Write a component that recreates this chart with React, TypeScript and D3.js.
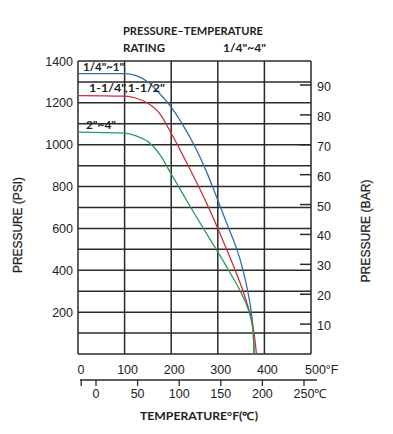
import React from "react";
import * as d3 from "d3";

// ---- data ----
const fTicks = [0, 100, 200, 300, 400, 500];
const cTicks = [0, 50, 100, 150, 200, 250];
const psiTicks = [200, 400, 600, 800, 1000, 1200, 1400];
const psiGrid = d3.range(0, 1401, 100);
const barTicks = [10, 20, 30, 40, 50, 60, 70, 80, 90];

const seriesNames = ['1/4"~1"', '1-1/4",1-1/2"', '2"~4"'];
const seriesColors = ["#2f6fae", "#cf2b3c", "#2a9a58"];

const smallF = [0, 100, 125, 150, 175, 200, 225, 250, 275, 300, 320, 340, 350, 360, 368, 373, 376, 378];
const smallPsi = [1340, 1340, 1330, 1300, 1245, 1180, 1095, 995, 875, 735, 620, 505, 435, 345, 255, 180, 105, 0];

const midF = [0, 100, 125, 150, 175, 200, 225, 250, 275, 300, 320, 340, 355, 365, 373, 378, 381, 383];
const midPsi = [1235, 1232, 1222, 1198, 1150, 1055, 950, 840, 725, 600, 495, 385, 295, 225, 160, 95, 40, 0];

const largeF = [0, 100, 125, 150, 175, 200, 225, 250, 275, 300, 325, 350, 365, 372, 376, 378];
const largePsi = [1060, 1055, 1042, 1015, 955, 860, 765, 670, 578, 488, 393, 292, 215, 160, 100, 0];

const seriesF = [smallF, midF, largeF];
const seriesPsi = [smallPsi, midPsi, largePsi];

// ---- layout ----
const W = 393, H = 434;
const L = 78, R = 311, T = 61, B = 354;

export default function App() {
  const x = d3.scaleLinear().domain([0, 500]).range([L, R]);
  const y = d3.scaleLinear().domain([0, 1400]).range([B, T]);
  const yBar = d3.scaleLinear().domain([0, 90]).range([B, 85]);
  const xC = d3.scaleLinear().domain([0, 250]).range([96, 304]);
  const cMin = (0 - 32) / 1.8;

  const line = d3
    .line<[number, number]>()
    .x((d) => x(d[0]))
    .y((d) => y(d[1]))
    .curve(d3.curveMonotoneX);

  const gridColor = "#2a2a2a";
  const tickFont = "'Liberation Sans', Arial, sans-serif";
  const boldFont = "Lato, 'Open Sans', sans-serif";
  const cAxisY = 380;

  return (
    <svg
      width={W}
      height={H}
      style={{ position: "absolute", left: 0, top: 0, background: "#fff" }}
    >
      <rect x={0} y={0} width={W} height={H} fill="#fff" />
      {/* title */}
      <g fontFamily={boldFont} fontWeight={700} fill="#222" fontSize={11.5}>
        <text x={123} y={35} textLength={140} lengthAdjust="spacingAndGlyphs">
          PRESSURE–TEMPERATURE
        </text>
        <text x={123} y={52} textLength={42} lengthAdjust="spacingAndGlyphs">
          RATING
        </text>
        <text x={223} y={52} textLength={43} lengthAdjust="spacingAndGlyphs">
          1/4"~4"
        </text>
      </g>

      {/* grid */}
      <g stroke={gridColor} strokeWidth={1.5}>
        {psiGrid.map((v) => (
          <line key={"h" + v} x1={L} x2={R} y1={y(v)} y2={y(v)} />
        ))}
        {fTicks.map((v) => (
          <line key={"v" + v} x1={x(v)} x2={x(v)} y1={T} y2={B} />
        ))}
        {barTicks.map((v) => (
          <line key={"b" + v} x1={R - 11} x2={R} y1={yBar(v)} y2={yBar(v)} />
        ))}
      </g>

      {/* curves */}
      {seriesF.map((fs, i) => (
        <path
          key={"s" + i}
          d={line(fs.map((f, j) => [f, seriesPsi[i][j]] as [number, number])) || ""}
          fill="none"
          stroke={seriesColors[i]}
          strokeWidth={1.3}
        />
      ))}

      {/* series labels */}
      <g fontFamily={boldFont} fontWeight={700} fill="#222" fontSize={10.5}>
        <text x={83} y={y(smallPsi[0]) - 2.5} textLength={41} lengthAdjust="spacingAndGlyphs">
          {seriesNames[0]}
        </text>
        <text x={89} y={y(midPsi[0]) - 4} textLength={76} lengthAdjust="spacingAndGlyphs">
          {seriesNames[1]}
        </text>
        <text x={86} y={y(largePsi[0]) - 3.5} textLength={30} lengthAdjust="spacingAndGlyphs">
          {seriesNames[2]}
        </text>
      </g>

      {/* left psi labels */}
      <g fontFamily={tickFont} fontSize={12.5} fill="#222" textAnchor="end">
        {psiTicks.map((v) => (
          <text key={"p" + v} x={73} y={y(v) + 4.5}>
            {v}
          </text>
        ))}
      </g>

      {/* right bar labels */}
      <g fontFamily={tickFont} fontSize={12.5} fill="#222">
        {barTicks.map((v) => (
          <text key={"bl" + v} x={317} y={yBar(v) + 6}>
            {v}
          </text>
        ))}
      </g>

      {/* F labels */}
      <g fontFamily={tickFont} fontSize={12.5} fill="#222" textAnchor="middle">
        {fTicks.map((v) =>
          v === 500 ? (
            <text key={"f" + v} x={x(v) - 6} y={374} textAnchor="start">
              {v}°F
            </text>
          ) : (
            <text key={"f" + v} x={x(v) + 3} y={374}>
              {v}
            </text>
          )
        )}
      </g>

      {/* C axis */}
      <g stroke={gridColor} strokeWidth={1.3}>
        <line x1={80} x2={317} y1={cAxisY} y2={cAxisY} />
        <line x1={xC(cMin)} x2={xC(cMin)} y1={cAxisY} y2={cAxisY + 6} />
        {cTicks.map((v) => (
          <line key={"ct" + v} x1={xC(v)} x2={xC(v)} y1={cAxisY} y2={cAxisY + 6} />
        ))}
      </g>
      <g fontFamily={tickFont} fontSize={12.5} fill="#222" textAnchor="middle">
        {cTicks.map((v) =>
          v === 250 ? (
            <text key={"c" + v} x={xC(v) - 10.5} y={398} textAnchor="start">
              {v}℃
            </text>
          ) : (
            <text key={"c" + v} x={xC(v)} y={398}>
              {v}
            </text>
          )
        )}
      </g>

      {/* axis titles */}
      <text
        x={140}
        y={420}
        fontFamily={boldFont}
        fontWeight={700}
        fontSize={11}
        fill="#222"
        textLength={118}
        lengthAdjust="spacingAndGlyphs"
      >
        TEMPERATURE°F(℃)
      </text>
      <text
        transform={`translate(22,225) rotate(-90)`}
        textAnchor="middle"
        fontFamily={tickFont}
        fontSize={13}
        fill="#222"
        stroke="#222"
        strokeWidth={0.25}
        textLength={96}
        lengthAdjust="spacingAndGlyphs"
      >
        PRESSURE (PSI)
      </text>
      <text
        transform={`translate(370,231) rotate(-90)`}
        textAnchor="middle"
        fontFamily={tickFont}
        fontSize={13}
        fill="#222"
        stroke="#222"
        strokeWidth={0.25}
        textLength={103}
        lengthAdjust="spacingAndGlyphs"
      >
        PRESSURE (BAR)
      </text>
    </svg>
  );
}
